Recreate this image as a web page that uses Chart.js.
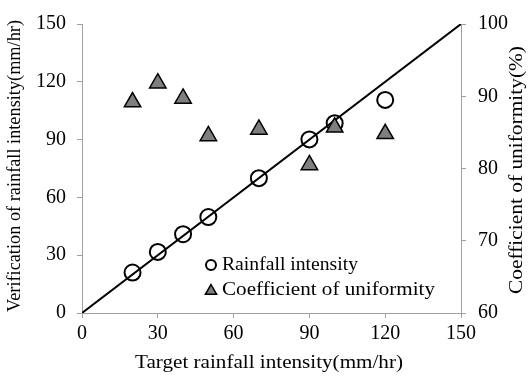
<!DOCTYPE html>
<html>
<head>
<meta charset="utf-8">
<script src="https://cdn.jsdelivr.net/npm/chart.js@4.4.0/dist/chart.umd.min.js"></script>
<style>
html,body{margin:0;padding:0;background:#fff;}
#wrap{width:530px;height:376px;position:relative;}
</style>
</head>
<body>
<div id="wrap"><canvas id="c" width="530" height="376"></canvas></div>
<script>
// Data
const targetIntensity = [20, 30, 40, 50, 70, 90, 100, 120];
const verifiedIntensity = [21, 31.7, 40.9, 49.8, 70, 90.1, 98.5, 110.6];
const uniformity = [89.2, 91.8, 89.7, 84.5, 85.4, 80.5, 85.7, 84.8];
const lineX = [0, 150];
const lineY = [0, 150];
const xTicks = [0, 30, 60, 90, 120, 150];
const yTicks = [0, 30, 60, 90, 120, 150];
const y2Ticks = [60, 70, 80, 90, 100];
const legendLabels = ['Rainfall intensity', 'Coefficient of uniformity'];
const xTitle = 'Target rainfall intensity(mm/hr)';
const yTitle = 'Verification of rainfall intensity(mm/hr)';
const y2Title = 'Coefficient of uniformity(%)';

const FONT = "'Liberation Serif', 'Times New Roman', serif";

function stretchText(ctx, text, x, y, rot, size, len, align) {
  ctx.save();
  ctx.translate(x, y);
  ctx.rotate(rot);
  ctx.font = size + 'px ' + FONT;
  const w = ctx.measureText(text).width;
  ctx.scale(len / w, 1);
  ctx.textAlign = align || 'center';
  ctx.textBaseline = 'middle';
  ctx.fillStyle = '#000';
  ctx.fillText(text, 0, 0);
  ctx.restore();
}

const textPlugin = {
  id: 'textPlugin',
  afterDraw(chart) {
    const ctx = chart.ctx;
    // axis titles
    stretchText(ctx, xTitle, 269, 363, 0, 19, 268);
    stretchText(ctx, yTitle, 15, 166, -Math.PI / 2, 18, 292);
    stretchText(ctx, y2Title, 517, 170, -Math.PI / 2, 18, 248);
    // legend
    const mx = 211, rows = [265, 290];
    ctx.save();
    ctx.strokeStyle = '#000';
    ctx.fillStyle = '#fff';
    ctx.lineWidth = 2;
    Chart.helpers.drawPoint(ctx, {pointStyle: 'circle', radius: 5, rotation: 0, borderWidth: 2}, mx, rows[0]);
    ctx.fillStyle = '#7f7f7f';
    ctx.lineWidth = 1.5;
    Chart.helpers.drawPoint(ctx, {pointStyle: 'triangle', radius: 6.5, rotation: 0, borderWidth: 1.5}, mx, rows[1] + 1);
    ctx.restore();
    stretchText(ctx, legendLabels[0], 222, rows[0], 0, 19, 136, 'left');
    stretchText(ctx, legendLabels[1], 222, rows[1], 0, 19, 213, 'left');
  }
};

new Chart(document.getElementById('c'), {
  type: 'scatter',
  data: {
    datasets: [
      {
        label: 'line',
        type: 'line',
        data: lineX.map((x, i) => ({x, y: lineY[i]})),
        borderColor: '#000',
        borderWidth: 2,
        pointRadius: 0,
        fill: false,
        xAxisID: 'x', yAxisID: 'y',
        order: 3
      },
      {
        label: legendLabels[0],
        data: targetIntensity.map((x, i) => ({x, y: verifiedIntensity[i]})),
        pointStyle: 'circle',
        pointRadius: 8,
        pointBorderWidth: 2,
        pointBackgroundColor: 'rgba(255,255,255,0)',
        pointBorderColor: '#000',
        xAxisID: 'x', yAxisID: 'y',
        order: 2
      },
      {
        label: legendLabels[1],
        data: targetIntensity.map((x, i) => ({x, y: uniformity[i]})),
        pointStyle: 'triangle',
        pointRadius: 9.5,
        pointBorderWidth: 1.5,
        pointBackgroundColor: '#7f7f7f',
        pointBorderColor: '#000',
        xAxisID: 'x', yAxisID: 'y2',
        order: 1
      }
    ]
  },
  options: {
    responsive: false,
    animation: false,
    layout: {padding: {top: 15, left: 0, right: 0, bottom: 0}},
    plugins: {legend: {display: false}, tooltip: {enabled: false}},
    scales: {
      x: {
        type: 'linear', position: 'bottom', min: 0, max: 150,
        afterBuildTicks: s => { s.ticks = xTicks.map(v => ({value: v})); },
        afterFit: s => { s.height = 63; },
        grid: {drawOnChartArea: false, color: '#a0a0a0', tickLength: 5, lineWidth: 1},
        border: {color: '#a0a0a0', width: 1},
        ticks: {font: {family: FONT, size: 20}, color: '#000', padding: 4, maxRotation: 0},
        title: {display: false}
      },
      y: {
        type: 'linear', position: 'left', min: 0, max: 150,
        afterBuildTicks: s => { s.ticks = yTicks.map(v => ({value: v})); },
        afterFit: s => { s.width = 82; },
        grid: {drawOnChartArea: false, color: '#a0a0a0', tickLength: 5},
        border: {color: '#a0a0a0', width: 1},
        ticks: {font: {family: FONT, size: 20}, color: '#000', padding: 11},
        title: {display: false}
      },
      y2: {
        type: 'linear', position: 'right', min: 60, max: 100,
        afterBuildTicks: s => { s.ticks = y2Ticks.map(v => ({value: v})); },
        afterFit: s => { s.width = 69; },
        grid: {drawOnChartArea: false, color: '#a0a0a0', tickLength: 5},
        border: {color: '#a0a0a0', width: 1},
        ticks: {font: {family: FONT, size: 20}, color: '#000', padding: 12},
        title: {display: false}
      }
    }
  },
  plugins: [textPlugin]
});
</script>
</body>
</html>
